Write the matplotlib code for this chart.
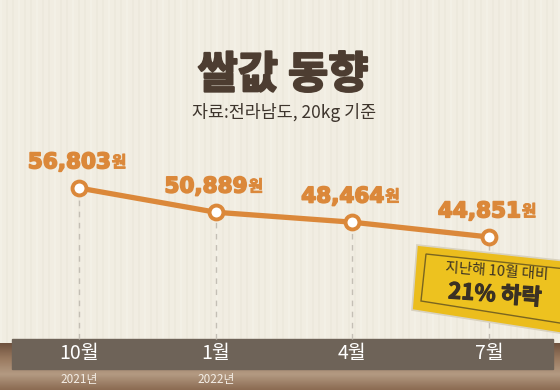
import matplotlib
import matplotlib.pyplot as plt
import matplotlib.patheffects as pe
import numpy as np
from matplotlib.patches import Rectangle, Polygon

matplotlib.use('Agg')

plt.rcParams['font.family'] = ['Noto Sans CJK KR', 'DejaVu Sans']

months = ['10월', '1월', '4월', '7월']
years = ['2021년', '2022년', '', '']
prices = [56803, 50889, 48464, 44851]

title = '쌀값 동향'
source = '자료:전라남도, 20kg 기준'
note_top = '지난해 10월 대비'
note_bottom = '21% 하락'

orange = '#DB883A'
brown = '#4D3D31'
W, H = 560, 390

fig = plt.figure(figsize=(W / 100, H / 100), dpi=100)
ax = fig.add_axes([0, 0, 1, 1])
ax.set_xlim(-0.578, 3.519)
ax.set_ylim(7535, 102656)
ax.axis('off')


def px(x, y):
    # pixel (from top left) -> axes fraction
    return x / W, 1 - y / H


# wallpaper
ax.add_patch(Rectangle((0, 0), 1, 1, transform=ax.transAxes, color='#F1EDE2', zorder=0))
for i, sx in enumerate(np.arange(0, W, 6)):
    shade = '#FAF8F1' if i % 3 == 0 else '#E6E1D4'
    ax.add_patch(Rectangle(px(sx, 345), 2 / W, 345 / H, transform=ax.transAxes,
                           color=shade, alpha=0.3, lw=0, zorder=0.5))

# wood floor
grad = np.linspace(0, 1, 50).reshape(-1, 1)
ax.imshow(grad, cmap=matplotlib.colors.LinearSegmentedColormap.from_list(
    'wood', ['#6F523E', '#9A7A60', '#B39A82', '#8C6C53']),
    extent=[0, 1, 0, 47 / H], transform=ax.transAxes, aspect='auto', zorder=1)

# month band
ax.add_patch(Rectangle(px(12, 369), 541 / W, 30 / H, transform=ax.transAxes,
                       color='#6E6358', zorder=2))

x = np.arange(len(prices))

# dashed guides down to the band
band_top = ax.transData.inverted().transform(ax.transAxes.transform(px(0, 339)))[1]
ax.vlines(x, band_top, prices, colors='#C4BFB5', linestyles=(0, (4, 4)), lw=1, zorder=2)

ax.plot(x, prices, color=orange, lw=3.8, zorder=3, solid_capstyle='round')
ax.plot(x, prices, 'o', ms=10, mfc='white', mec=orange, mew=2.8, zorder=4)

heavy = [pe.withStroke(linewidth=1.2, foreground=orange)]
nums = []
for xi, p in zip(x, prices):
    t = ax.annotate(f'{p:,}', (xi, p), xytext=(-7, 18.5), textcoords='offset points',
                    ha='center', va='center', fontsize=15.5, fontweight='bold',
                    color=orange, family='DejaVu Sans', zorder=5, path_effects=heavy)
    nums.append(t)

xt = ax.get_xaxis_transform()
for xi, m, yr in zip(x, months, years):
    ax.text(xi, 1 - 354 / H, m, transform=xt, ha='center', va='center',
            color='white', fontsize=14, zorder=5)
    if yr:
        ax.text(xi, 1 - 379 / H, yr, transform=xt, ha='center', va='center',
                color='#F4EEE6', fontsize=8.5, zorder=5)

# title
ax.text(*px(283, 75), title, transform=ax.transAxes, ha='center', va='center',
        fontsize=31.5, fontweight='black', color=brown,
        path_effects=[pe.withStroke(linewidth=1.5, foreground=brown)])
ax.text(*px(284, 112), source, transform=ax.transAxes, ha='center', va='center',
        fontsize=12.5, color='#3E352D')

# yellow note
outer = [px(417, 245), px(566, 261), px(566, 334), px(412, 310)]
inner = [px(426, 254), px(566, 269), px(566, 324), px(421, 301)]
ax.add_patch(Polygon(outer, closed=True, transform=ax.transAxes, fc='#EBBD1D',
                     ec='#D9D2BF', lw=1.2, zorder=6))
ax.add_patch(Polygon(inner, closed=True, transform=ax.transAxes, fc='#EDC21F',
                     ec='#7A6520', lw=1.0, zorder=6))
ax.text(*px(497, 272), note_top, transform=ax.transAxes, ha='center', va='center',
        fontsize=10.5, color='#3A3124', rotation=-4, zorder=7)
ax.text(*px(495, 295), note_bottom, transform=ax.transAxes, ha='center', va='center',
        fontsize=16, fontweight='bold', color='#3A3124', rotation=-4, zorder=7,
        path_effects=[pe.withStroke(linewidth=0.8, foreground='#3A3124')])

# small "원" after each number
fig.canvas.draw()
r = fig.canvas.get_renderer()
inv = ax.transAxes.inverted()
for t in nums:
    bb = t.get_window_extent(r)
    pos = inv.transform((bb.x1 + 1, bb.y0 + 2))
    ax.text(pos[0], pos[1], '원', transform=ax.transAxes, ha='left', va='bottom',
            fontsize=11.5, fontweight='bold', color=orange, zorder=5,
            path_effects=[pe.withStroke(linewidth=0.6, foreground=orange)])

fig.savefig('out.png', dpi=100)
